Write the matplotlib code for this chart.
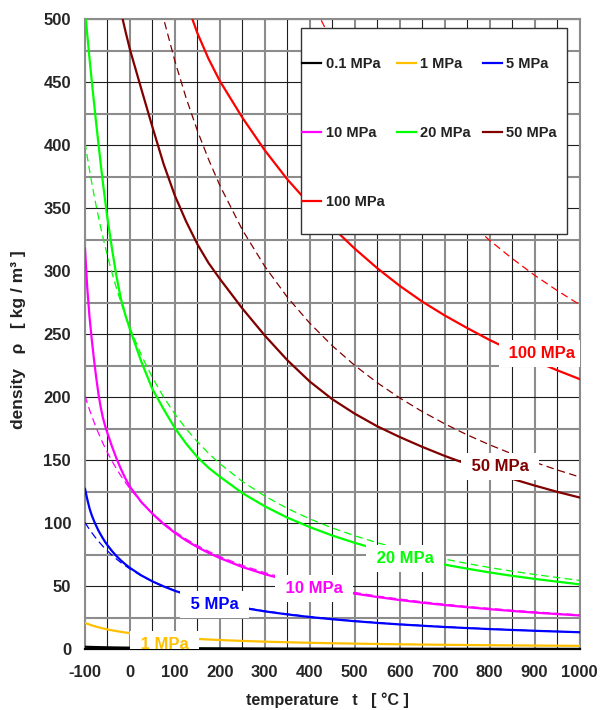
import matplotlib
matplotlib.use('Agg')
import matplotlib.pyplot as plt
import matplotlib.patches as patches
import numpy as np

plt.rcParams['font.family'] = ['Liberation Sans', 'DejaVu Sans']
plt.rcParams['font.weight'] = 'bold'
plt.rcParams['axes.unicode_minus'] = False

nan = np.nan

# temperature grid [°C]
temperature = [-100, -95, -90, -85, -80, -75, -70, -65, -60, -55, -50, -40, -30, -20, -10, 0,
               25, 50, 75, 100, 125, 150, 175, 200, 250, 300, 350, 400, 450, 500, 550, 600, 650, 700,
               750, 800, 850, 900, 950, 1000]

# real gas density [kg/m3]
rho_01 = [2.02, 1.96, 1.90, 1.85, 1.81, 1.76, 1.72, 1.67, 1.64, 1.60, 1.56, 1.49, 1.43, 1.38, 1.32, 1.28,
          1.17, 1.08, 1.00, 0.93, 0.87, 0.82, 0.78, 0.74, 0.67, 0.61, 0.56, 0.52, 0.48, 0.45, 0.42, 0.40,
          0.38, 0.36, 0.34, 0.32, 0.31, 0.30, 0.28, 0.27]
rho_1 = [20.96, 20.26, 19.63, 19.03, 18.48, 17.96, 17.48, 17.03, 16.59, 16.18, 15.80, 15.09, 14.44, 13.84,
         13.30, 12.80, 11.70, 10.78, 10.01, 9.34, 8.75, 8.23, 7.77, 7.36, 6.66, 6.07, 5.58, 5.17, 4.81,
         4.50, 4.23, 3.98, 3.77, 3.57, 3.40, 3.24, 3.10, 2.96, 2.84, 2.73]
rho_5 = [127.3, 119.2, 111.9, 106.4, 101.9, 97.9, 94.2, 91.0, 87.9, 85.1, 82.6, 78.0, 74.0, 70.5, 67.4, 64.6,
         58.7, 53.9, 49.9, 46.4, 43.5, 40.8, 38.55, 36.45, 33.0, 30.1, 27.7, 25.6, 23.85, 22.3, 20.95, 19.75,
         18.7, 17.7, 16.85, 16.05, 15.35, 14.7, 14.1, 13.55]
rho_10 = [318, 287, 264, 246, 230, 215.5, 202.5, 192, 183.5, 177, 171.5, 161, 151.5, 143, 135.5, 129,
          117, 107.6, 99.4, 92.4, 86.3, 81.1, 76.5, 72.4, 65.3, 59.6, 54.8, 50.8, 47.2, 44.2, 41.5, 39.1,
          37.0, 35.1, 33.4, 31.85, 30.4, 29.1, 27.95, 26.85]
rho_20 = [508, 488, 469, 451, 434, 417, 401, 385, 370, 355.5, 342, 318, 296, 278, 265, 254,
          228.5, 206.5, 190.5, 175.5, 163.2, 152.5, 144, 137, 124, 113.5, 104.5, 97, 90.3, 84.5, 79.3, 74.8,
          70.8, 67.2, 64, 61, 58.3, 55.9, 53.7, 51.6]
rho_50 = [nan, nan, nan, nan, nan, nan, nan, nan, nan, nan, nan, nan, nan, 506, 490.5, 476,
          445, 414.5, 385, 360, 339.5, 321.5, 306.5, 294, 270.5, 249, 229.5, 212.5, 198.5, 187, 177, 168.5,
          160.7, 153.5, 147, 141, 135.3, 130, 125, 120.5]
rho_100 = [nan, nan, nan, nan, nan, nan, nan, nan, nan, nan, nan, nan, nan, nan, nan, nan,
           nan, nan, nan, 543, 514, 489, 468.5, 451, 422, 396, 373, 353, 335, 318, 302.5, 288.5, 276, 265,
           255, 245.5, 237, 229, 221.5, 214.5]

# ideal gas density [kg/m3]
ideal_5 = [100.6, 97.8, 95.1, 92.6, 90.2, 87.9, 85.7, 83.7, 81.7, 79.8, 78.1, 74.7, 71.6, 68.8, 66.2, 63.8,
           58.4, 53.9, 50.0, 46.7, 43.7, 41.2, 38.9, 36.8, 33.3, 30.4, 28.0, 25.9, 24.1, 22.5, 21.2, 19.9,
           18.9, 17.9, 17.0, 16.2, 15.5, 14.8, 14.2, 13.7]
ideal_10 = [201.2, 195.5, 190.2, 185.2, 180.4, 175.8, 171.5, 167.4, 163.4, 159.7, 156.1, 149.4, 143.3, 137.6,
            132.4, 127.5, 116.8, 107.8, 100.1, 93.4, 87.5, 82.3, 77.7, 73.6, 66.6, 60.8, 55.9, 51.8, 48.2,
            45.1, 42.3, 39.9, 37.7, 35.8, 34.0, 32.5, 31.0, 29.7, 28.5, 27.4]
ideal_20 = [402.4, 391.1, 380.4, 370.3, 360.7, 351.6, 343.0, 334.7, 326.9, 319.4, 312.2, 298.8, 286.5, 275.2,
            264.8, 255.1, 233.7, 215.6, 200.1, 186.7, 175.0, 164.7, 155.5, 147.3, 133.2, 121.6, 111.8, 103.5,
            96.3, 90.1, 84.6, 79.8, 75.5, 71.6, 68.1, 64.9, 62.0, 59.4, 57.0, 54.7]
ideal_50 = [1006.0, 977.7, 951.1, 925.8, 901.8, 879.1, 857.4, 836.8, 817.2, 798.5, 780.6, 747.1, 716.4, 688.1,
            661.9, 637.7, 584.2, 539.0, 500.3, 466.8, 437.5, 411.6, 388.7, 368.1, 332.9, 303.9, 279.5, 258.8,
            240.9, 225.3, 211.6, 199.5, 188.7, 179.0, 170.2, 162.3, 155.1, 148.5, 142.4, 136.8]
ideal_100 = [2011.9, 1955.4, 1902.1, 1851.5, 1803.6, 1758.1, 1714.8, 1673.6, 1634.4, 1596.9, 1561.1, 1494.1,
             1432.7, 1376.1, 1323.8, 1275.3, 1168.4, 1078.0, 1000.6, 933.6, 875.0, 823.3, 777.3, 736.3, 665.9,
             607.8, 559.0, 517.5, 481.7, 450.6, 423.2, 399.0, 377.4, 358.0, 340.5, 324.6, 310.2, 296.9,
             284.8, 273.6]

labels = ['0.1 MPa', '1 MPa', '5 MPa', '10 MPa', '20 MPa', '50 MPa', '100 MPa']
colors = ['#000000', '#ffc000', '#0000ff', '#ff00ff', '#00ff00', '#800000', '#ff0000']
real = [rho_01, rho_1, rho_5, rho_10, rho_20, rho_50, rho_100]
ideal = [None, None, ideal_5, ideal_10, ideal_20, ideal_50, ideal_100]

fig = plt.figure(figsize=(6.01, 7.10), dpi=100)
ax = fig.add_axes([85 / 601, 1 - 649.3 / 710, 494.5 / 601, 630 / 710])

gray = '#8c8c8c'
dark = '#1e1e1e'
ax.set_xlim(-100, 1000)
ax.set_ylim(0, 500)
ax.set_xticks(range(-100, 1001, 100))
ax.set_xticks(range(-50, 1000, 100), minor=True)
ax.set_yticks(range(0, 501, 50))
ax.set_yticks(range(25, 500, 50), minor=True)
ax.xaxis.grid(True, which='major', color=gray, lw=1.5)
ax.xaxis.grid(True, which='minor', color=dark, lw=0.8)
ax.yaxis.grid(True, which='major', color=dark, lw=0.8)
ax.yaxis.grid(True, which='minor', color=gray, lw=1.5)
ax.set_axisbelow(True)
ax.tick_params(which='both', length=0, labelsize=12, labelcolor='#262626')
ax.tick_params(axis='x', pad=11)
ax.tick_params(axis='y', pad=10)
for lab in ax.get_xticklabels() + ax.get_yticklabels():
    lab.set_fontweight('bold')
for s in ['left', 'right', 'top']:
    ax.spines[s].set_color(gray)
    ax.spines[s].set_linewidth(1.5)
ax.spines['bottom'].set_color('#000000')
ax.spines['bottom'].set_linewidth(1.6)

handles = []
for r, idl, c, lab in zip(real, ideal, colors, labels):
    if idl is not None:
        ax.plot(temperature, idl, color=c, lw=0.9, ls=(0, (6, 3.5)), zorder=3)
    h, = ax.plot(temperature, r, color=c, lw=1.6, zorder=3, label=lab)
    handles.append(h)

# inline labels
inline = [('1 MPa', 77, 4.0, '#ffc000'), ('5 MPa', 188, 35.3, '#0000ff'),
          ('10 MPa', 409, 48.2, '#ff00ff'), ('20 MPa', 612, 71.8, '#00ff00'),
          ('50 MPa', 824, 145, '#800000'), ('100 MPa', 917, 234.8, '#ff0000')]
for txt, x, y, c in inline:
    ax.text(x, y, ' ' + txt + ' ', color=c, fontsize=12, fontweight='bold', ha='center', va='center',
            bbox=dict(boxstyle='square,pad=0.35', fc='white', ec='none'), zorder=5, clip_on=True)

# legend frame and legend
ax.add_patch(patches.Rectangle((0.4362, 0.6587), 0.5379, 0.327, transform=ax.transAxes,
                               fc='white', ec='#333333', lw=1.0, zorder=6))
order = [0, 3, 6, 1, 4, 2, 5]
leg = ax.legend([handles[i] for i in order], [labels[i] for i in order], ncol=3, mode='expand',
                loc='upper left', bbox_to_anchor=(0.4395, 0.64, 0.5145, 0.3), frameon=False,
                prop={'size': 10.5, 'weight': 'bold'}, handlelength=1.3, handletextpad=0.3,
                borderpad=0, borderaxespad=0, labelspacing=3.78, columnspacing=0.5)
leg.set_zorder(7)
for t in leg.get_texts():
    t.set_color('#222222')

fig.text(327 / 601, 1 - 700 / 710, 'temperature   t   [ °C ]', fontsize=11.5, fontweight='bold',
         color='#222222', ha='center', va='center')
fig.text(18.5 / 601, 1 - 340 / 710, 'density   ρ   [ kg / m³ ]', fontsize=12.5, fontweight='bold',
         color='#222222', ha='center', va='center', rotation=90)

fig.savefig('out.png', dpi=100)
